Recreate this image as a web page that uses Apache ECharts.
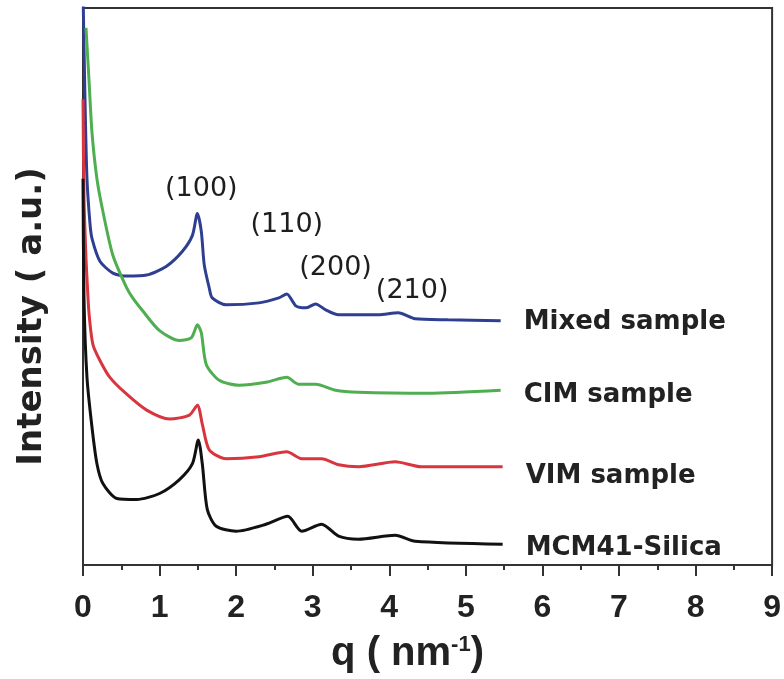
<!DOCTYPE html>
<html>
<head>
<meta charset="utf-8">
<script src="https://cdn.jsdelivr.net/npm/echarts@6/dist/echarts.min.js"></script>
<style>html,body{margin:0;padding:0;background:#fff;}#chart{width:784px;height:679px;}</style>
</head>
<body>
<div id="chart"></div>
<script>
// q in nm^-1, intensity in arbitrary units (offset curves)
const qMixed = [0, 0.026, 0.052, 0.091, 0.117, 0.221, 0.39, 0.571, 0.831, 1.091, 1.299, 1.429, 1.494, 1.545, 1.584, 1.649, 1.688, 1.87, 2.299, 2.558, 2.662, 2.779, 2.909, 3.039, 3.169, 3.338, 3.857, 4.117, 4.338, 4.766, 5.455];
const yMixed = [579, 469, 389, 344, 329, 306, 294, 291, 292, 301, 316, 332, 354, 336, 302, 279, 269, 262, 264, 269, 273, 261, 259, 263, 257, 252, 252, 254, 248, 247, 246];

const qCIM = [0.039, 0.078, 0.117, 0.182, 0.26, 0.39, 0.571, 0.649, 0.779, 1.0, 1.26, 1.416, 1.494, 1.545, 1.61, 1.779, 2.039, 2.39, 2.662, 2.818, 3.039, 3.299, 3.597, 4.506, 5.455];
const yCIM = [541, 489, 436, 389, 356, 312, 279, 269, 256, 236, 226, 229, 242, 234, 202, 186, 181, 184, 189, 182, 182, 176, 174, 173, 176];

const qVIM = [0, 0.013, 0.039, 0.052, 0.078, 0.13, 0.221, 0.351, 0.571, 0.831, 1.13, 1.39, 1.494, 1.558, 1.649, 1.87, 2.299, 2.662, 2.857, 3.117, 3.338, 3.597, 4.078, 4.416, 5.481];
const yVIM = [469, 369, 309, 289, 254, 222, 206, 189, 172, 156, 147, 151, 161, 142, 116, 107, 109, 114, 107, 107, 101, 99, 104, 99, 99];

const qMCM = [0, 0.013, 0.052, 0.117, 0.182, 0.26, 0.442, 0.701, 1.0, 1.26, 1.429, 1.506, 1.558, 1.623, 1.74, 2.0, 2.39, 2.675, 2.857, 3.117, 3.338, 3.597, 4.078, 4.338, 5.481];
const yMCM = [389, 269, 189, 139, 102, 82, 67, 66, 72, 86, 102, 126, 102, 56, 39, 34, 41, 49, 34, 41, 29, 26, 30, 24, 21];

const seriesNames = ['Mixed sample', 'CIM sample', 'VIM sample', 'MCM41-Silica'];
const peakNames = ['(100)', '(110)', '(200)', '(210)'];
const peakQ = [1.545, 2.662, 3.299, 4.299];
const peakY = [379, 342, 299, 276];
const xTicks = ['0', '1', '2', '3', '4', '5', '6', '7', '8', '9'];

const zip = (a, b) => a.map((v, i) => [v, b[i]]);
const colors = ['#2e3f92', '#4fae4f', '#d8353f', '#111111'];
const labelOffsets = [1, 5, 10, 4];
const dataSets = [zip(qMixed, yMixed), zip(qCIM, yCIM), zip(qVIM, yVIM), zip(qMCM, yMCM)];

const chart = echarts.init(document.getElementById('chart'), null, {renderer: 'canvas'});
const lineSeries = seriesNames.map((name, i) => ({
  name: name,
  type: 'line',
  data: dataSets[i],
  showSymbol: false,
  symbol: 'none',
  smooth: 0.25,
  clip: true,
  lineStyle: {color: colors[i], width: 3},
  itemStyle: {color: colors[i]},
  endLabel: {
    show: true,
    formatter: name,
    distance: 23,
    offset: [0, labelOffsets[i]],
    color: '#222',
    fontFamily: 'DejaVu Sans',
    fontWeight: 'bold',
    fontSize: 26
  }
}));

chart.setOption({
  animation: false,
  backgroundColor: '#fff',
  grid: {left: 83, right: 8, top: 8, bottom: 110, show: true, borderColor: '#333', borderWidth: 2, backgroundColor: 'transparent'},
  xAxis: {
    type: 'value',
    min: 0, max: 9, interval: 1,
    name: 'q ( nm{sup|-1})',
    nameLocation: 'middle',
    nameGap: 69,
    nameTextStyle: {
      fontFamily: 'Liberation Sans', fontWeight: 'bold', fontSize: 40, color: '#222',
      padding: [0, 40, 0, 0],
      rich: {sup: {fontFamily: 'Liberation Sans', fontWeight: 'bold', fontSize: 22, verticalAlign: 'top', color: '#222', padding: [0, 0, 16, 0]}}
    },
    axisLine: {show: true, lineStyle: {color: '#333', width: 2}},
    axisTick: {show: true, length: 11, lineStyle: {color: '#333', width: 2}},
    minorTick: {show: true, splitNumber: 2, length: 5, lineStyle: {color: '#333', width: 2}},
    splitLine: {show: false},
    axisLabel: {
      margin: 27, color: '#222', fontFamily: 'Liberation Sans', fontWeight: 'bold', fontSize: 32,
      formatter: v => xTicks[Math.round(v)]
    }
  },
  yAxis: {
    type: 'value',
    min: 0, max: 561,
    name: 'Intensity ( a.u.)',
    nameLocation: 'middle',
    nameGap: 34,
    nameTextStyle: {fontFamily: 'DejaVu Sans', fontWeight: 'bold', fontSize: 34, color: '#222', padding: [0, 60, 0, 0]},
    axisLine: {show: true, lineStyle: {color: '#333', width: 2}},
    axisTick: {show: false},
    axisLabel: {show: false},
    splitLine: {show: false}
  },
  series: lineSeries.concat([{
    name: 'peaks',
    type: 'scatter',
    symbolSize: 0,
    itemStyle: {color: '#222', opacity: 1},
    silent: true,
    data: peakNames.map((n, i) => ({name: n, value: [peakQ[i], peakY[i]]})),
    label: {
      show: true, position: 'inside', formatter: '{b}', opacity: 1,
      color: '#1e1e1e', fontFamily: 'DejaVu Sans', fontSize: 27, textBorderWidth: 0
    }
  }])
});
</script>
</body>
</html>
